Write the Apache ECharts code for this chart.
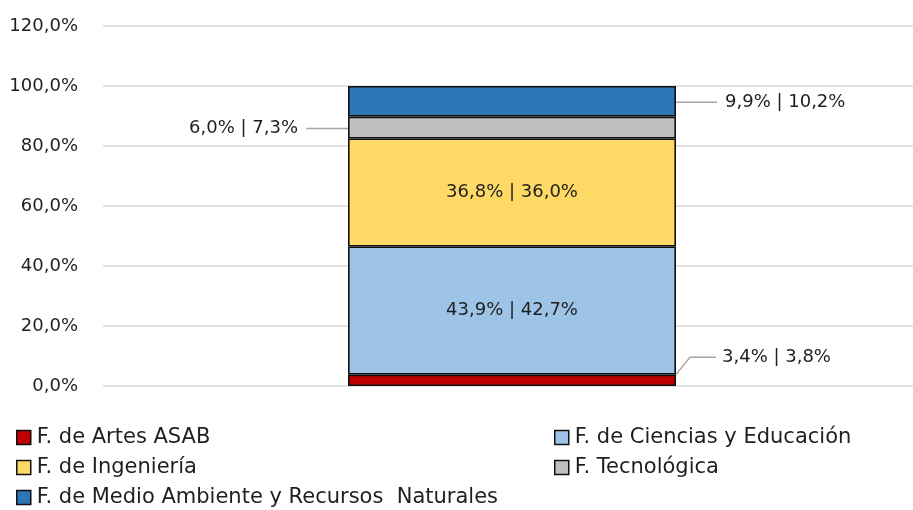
<!DOCTYPE html>
<html><head><meta charset="utf-8">
<script src="https://cdn.jsdelivr.net/npm/echarts@6/dist/echarts.min.js"></script>
<style>html,body{margin:0;padding:0;background:#fff}#c{width:913px;height:510px}</style>
</head><body><div id="c"></div>
<script>
const categories = ['Total'];
const seriesNames = ['F. de Artes ASAB','F. de Ciencias y Educación','F. de Ingeniería','F. Tecnológica','F. de Medio Ambiente y Recursos  Naturales'];
const valuesFirst = [3.4, 43.9, 36.8, 6.0, 9.9];
const valuesBar = [3.8, 42.7, 36.0, 7.3, 10.2];
const yTicks = {min: 0, max: 120, interval: 20};
const colors = ['#C00000','#9DC3E6','#FFD966','#BFBFBF','#2E75B6'];

const FONT = '"DejaVu Sans"';
const TXT = '#1f1f1f';
const fmt = v => v.toFixed(1).replace('.', ',') + '%';

const labelCfg = [
  {pos:'right', layout:{dx:35, dy:-23}, line:true, padding:[0,0,0,6], len2:26},
  {pos:'inside', layout:null, line:false, padding:0},
  {pos:'inside', layout:null, line:false, padding:0},
  {pos:'left', layout:{dx:-37, dy:1}, line:true, padding:[0,8,0,0], len2:0},
  {pos:'right', layout:{dx:36, dy:1}, line:true, padding:[0,0,0,8], len2:0}
];

const series = seriesNames.map((n, i) => {
  const s = {
    name: n, type: 'bar', stack: 'total', barWidth: 328,
    data: [valuesBar[i]],
    itemStyle: {color: colors[i], borderColor: '#111', borderWidth: 1.6},
    label: {
      show: true, position: labelCfg[i].pos, distance: 5, padding: labelCfg[i].padding,
      backgroundColor: 'rgba(255,255,255,0)',
      color: TXT, fontFamily: FONT, fontSize: 18,
      formatter: () => fmt(valuesFirst[i]) + ' | ' + fmt(valuesBar[i])
    },
    emphasis: {disabled: true},
    animation: false
  };
  if (labelCfg[i].layout) s.labelLayout = labelCfg[i].layout;
  if (labelCfg[i].line) s.labelLine = {show: true, length2: labelCfg[i].len2, lineStyle: {color: '#A6A6A6', width: 1.5}};
  return s;
});

// legend placement: [series index, left, top]
const legendPlaces = [[0, 16, 427], [1, 554, 427], [2, 16, 457], [3, 554, 457], [4, 16, 487]];
const legends = legendPlaces.map(([i, l, t]) => ({
  left: l, top: t, itemWidth: 14, itemHeight: 14, icon: 'rect', padding: 0,
  textStyle: {fontFamily: FONT, fontSize: 21, lineHeight: 20, color: TXT, padding: [0,0,0,1]},
  selectedMode: false, itemStyle: {borderColor: '#111', borderWidth: 1.5},
  data: [seriesNames[i]]
}));

const chart = echarts.init(document.getElementById('c'));
chart.setOption({
  animation: false,
  grid: {left: 103, width: 818, top: 26, bottom: 124, outerBoundsMode: 'none', containLabel: false},
  xAxis: {type: 'category', data: categories, axisLine: {show: false}, axisTick: {show: false}, axisLabel: {show: false}},
  yAxis: {
    type: 'value', min: yTicks.min, max: yTicks.max, interval: yTicks.interval,
    axisLabel: {formatter: v => fmt(v), fontFamily: FONT, fontSize: 18, color: TXT, margin: 25},
    splitLine: {lineStyle: {color: '#D9D9D9', width: 1.5}},
    axisLine: {show: false}, axisTick: {show: false}
  },
  legend: legends,
  series: series
});
</script></body></html>
